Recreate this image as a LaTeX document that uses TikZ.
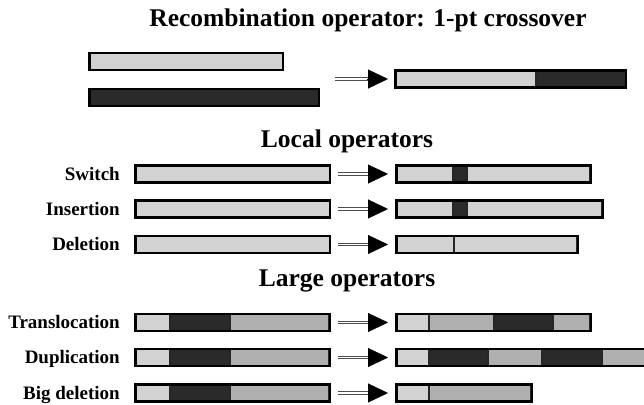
\documentclass[tikz,border=0pt]{standalone}
\usepackage{fontspec}
\setmainfont{Liberation Serif}
\usepackage{tikz}
\usetikzlibrary{arrows.meta}
\definecolor{lgray}{RGB}{210,210,210}
\definecolor{mgray}{RGB}{176,176,176}
\definecolor{dgray}{RGB}{42,42,42}
\tikzset{
  bar/.style={draw=black, line width=2.6pt, inner sep=0pt, minimum height=17pt, anchor=west},
  seg/.style={draw=black!85, line width=1.4pt},
  shaft/.style={draw=black!70, double=white, double distance=1.2pt, line width=1.1pt},
  tip/.style={line width=0.3pt, -{Triangle[length=20pt,width=19pt]}},
  lbl/.style={font=\fontsize{19}{22}\selectfont\bfseries, anchor=base east, inner sep=0pt},
  hdg/.style={font=\fontsize{25.5}{30}\selectfont\bfseries, anchor=base, inner sep=0pt}
}

\begin{document}
\begin{tikzpicture}[x=1pt,y=-1pt]
\clip (0,0) rectangle (644,404);
\fill[white] (0,0) rectangle (644,404);
% headings
\node[hdg] (tCross) at (368,27) {Recombination operator: 1-pt crossover};
\node[hdg] (tLocal) at (347,147) {Local operators};
\node[hdg] (tLarge) at (347,286) {Large operators};
% crossover
\fill[lgray] (88.3,53) rectangle (281.7,70);
\node[bar, minimum width=193.4pt] (coA) at (88.3,61.5) {};
\fill[dgray] (88.3,89) rectangle (317.7,106);
\node[bar, minimum width=229.4pt] (coB) at (88.3,97.5) {};
\filldraw[seg, fill=lgray] (394.3,70.5) rectangle (536,87.5);
\filldraw[seg, fill=dgray] (536,70.5) rectangle (624.7,87.5);
\node[bar, minimum width=230.4pt] (coR) at (394.3,79) {};
\coordinate (xo) at (335,79);
\draw[shaft] (xo) -- ([xshift=-26.3pt]coR.west);
\draw[tip] ([xshift=-27.3pt]coR.west) -- ([xshift=-6.3pt]coR.west);
% local operators
\node[lbl] (lSw) at (120,180) {Switch};
\fill[lgray] (134.3,165.5) rectangle (328.7,182.5);
\node[bar, minimum width=194.4pt] (swA) at (134.3,174) {};
\filldraw[seg, fill=lgray] (395.3,165.5) rectangle (453,182.5);
\filldraw[seg, fill=dgray] (453,165.5) rectangle (467,182.5);
\filldraw[seg, fill=lgray] (467,165.5) rectangle (589.7,182.5);
\node[bar, minimum width=194.4pt] (swB) at (395.3,174) {};
\draw[shaft] ([xshift=6.3pt]swA.east) -- ([xshift=-26.3pt]swB.west);
\draw[tip] ([xshift=-27.3pt]swB.west) -- ([xshift=-7.3pt]swB.west);

\node[lbl] (lIn) at (120,215) {Insertion};
\fill[lgray] (134.3,200.5) rectangle (328.7,217.5);
\node[bar, minimum width=194.4pt] (inA) at (134.3,209) {};
\filldraw[seg, fill=lgray] (395.3,200.5) rectangle (453,217.5);
\filldraw[seg, fill=dgray] (453,200.5) rectangle (467,217.5);
\filldraw[seg, fill=lgray] (467,200.5) rectangle (601.7,217.5);
\node[bar, minimum width=206.4pt] (inB) at (395.3,209) {};
\draw[shaft] ([xshift=6.3pt]inA.east) -- ([xshift=-26.3pt]inB.west);
\draw[tip] ([xshift=-27.3pt]inB.west) -- ([xshift=-7.3pt]inB.west);

\node[lbl] (lDe) at (120,250.5) {Deletion};
\fill[lgray] (134.3,236) rectangle (328.7,253);
\node[bar, minimum width=194.4pt] (deA) at (134.3,244.5) {};
\filldraw[seg, fill=lgray] (395.3,236) rectangle (454,253);
\filldraw[seg, fill=lgray] (454,236) rectangle (576.7,253);
\node[bar, minimum width=181.4pt] (deB) at (395.3,244.5) {};
\draw[shaft] ([xshift=6.3pt]deA.east) -- ([xshift=-26.3pt]deB.west);
\draw[tip] ([xshift=-27.3pt]deB.west) -- ([xshift=-7.3pt]deB.west);
% large operators
\node[lbl] (lTr) at (120,328.5) {Translocation};
\filldraw[seg, fill=lgray] (134.3,314) rectangle (170,331);
\filldraw[seg, fill=dgray] (170,314) rectangle (230,331);
\filldraw[seg, fill=mgray] (230,314) rectangle (328.7,331);
\node[bar, minimum width=194.4pt] (trA) at (134.3,322.5) {};
\filldraw[seg, fill=lgray] (395.3,314) rectangle (429,331);
\filldraw[seg, fill=mgray] (429,314) rectangle (494,331);
\filldraw[seg, fill=dgray] (494,314) rectangle (553,331);
\filldraw[seg, fill=mgray] (553,314) rectangle (589.7,331);
\node[bar, minimum width=194.4pt] (trB) at (395.3,322.5) {};
\draw[shaft] ([xshift=6.3pt]trA.east) -- ([xshift=-26.3pt]trB.west);
\draw[tip] ([xshift=-27.3pt]trB.west) -- ([xshift=-7.3pt]trB.west);

\node[lbl] (lDu) at (120,363.5) {Duplication};
\filldraw[seg, fill=lgray] (134.3,349) rectangle (170,366);
\filldraw[seg, fill=dgray] (170,349) rectangle (230,366);
\filldraw[seg, fill=mgray] (230,349) rectangle (328.7,366);
\node[bar, minimum width=194.4pt] (duA) at (134.3,357.5) {};
\filldraw[seg, fill=lgray] (395.3,349) rectangle (429,366);
\filldraw[seg, fill=dgray] (429,349) rectangle (488,366);
\filldraw[seg, fill=mgray] (488,349) rectangle (542,366);
\filldraw[seg, fill=dgray] (542,349) rectangle (602,366);
\filldraw[seg, fill=mgray] (602,349) rectangle (664,366);
\node[bar, minimum width=270pt] (duB) at (395.3,357.5) {};
\draw[shaft] ([xshift=6.3pt]duA.east) -- ([xshift=-26.3pt]duB.west);
\draw[tip] ([xshift=-27.3pt]duB.west) -- ([xshift=-7.3pt]duB.west);

\node[lbl] (lBd) at (120,399) {Big deletion};
\filldraw[seg, fill=lgray] (134.3,384.5) rectangle (170,401.5);
\filldraw[seg, fill=dgray] (170,384.5) rectangle (230,401.5);
\filldraw[seg, fill=mgray] (230,384.5) rectangle (328.7,401.5);
\node[bar, minimum width=194.4pt] (bdA) at (134.3,393) {};
\filldraw[seg, fill=lgray] (395.3,384.5) rectangle (429,401.5);
\filldraw[seg, fill=mgray] (429,384.5) rectangle (530.7,401.5);
\node[bar, minimum width=135.4pt] (bdB) at (395.3,393) {};
\draw[shaft] ([xshift=6.3pt]bdA.east) -- ([xshift=-26.3pt]bdB.west);
\draw[tip] ([xshift=-27.3pt]bdB.west) -- ([xshift=-7.3pt]bdB.west);
\end{tikzpicture}
\end{document}
